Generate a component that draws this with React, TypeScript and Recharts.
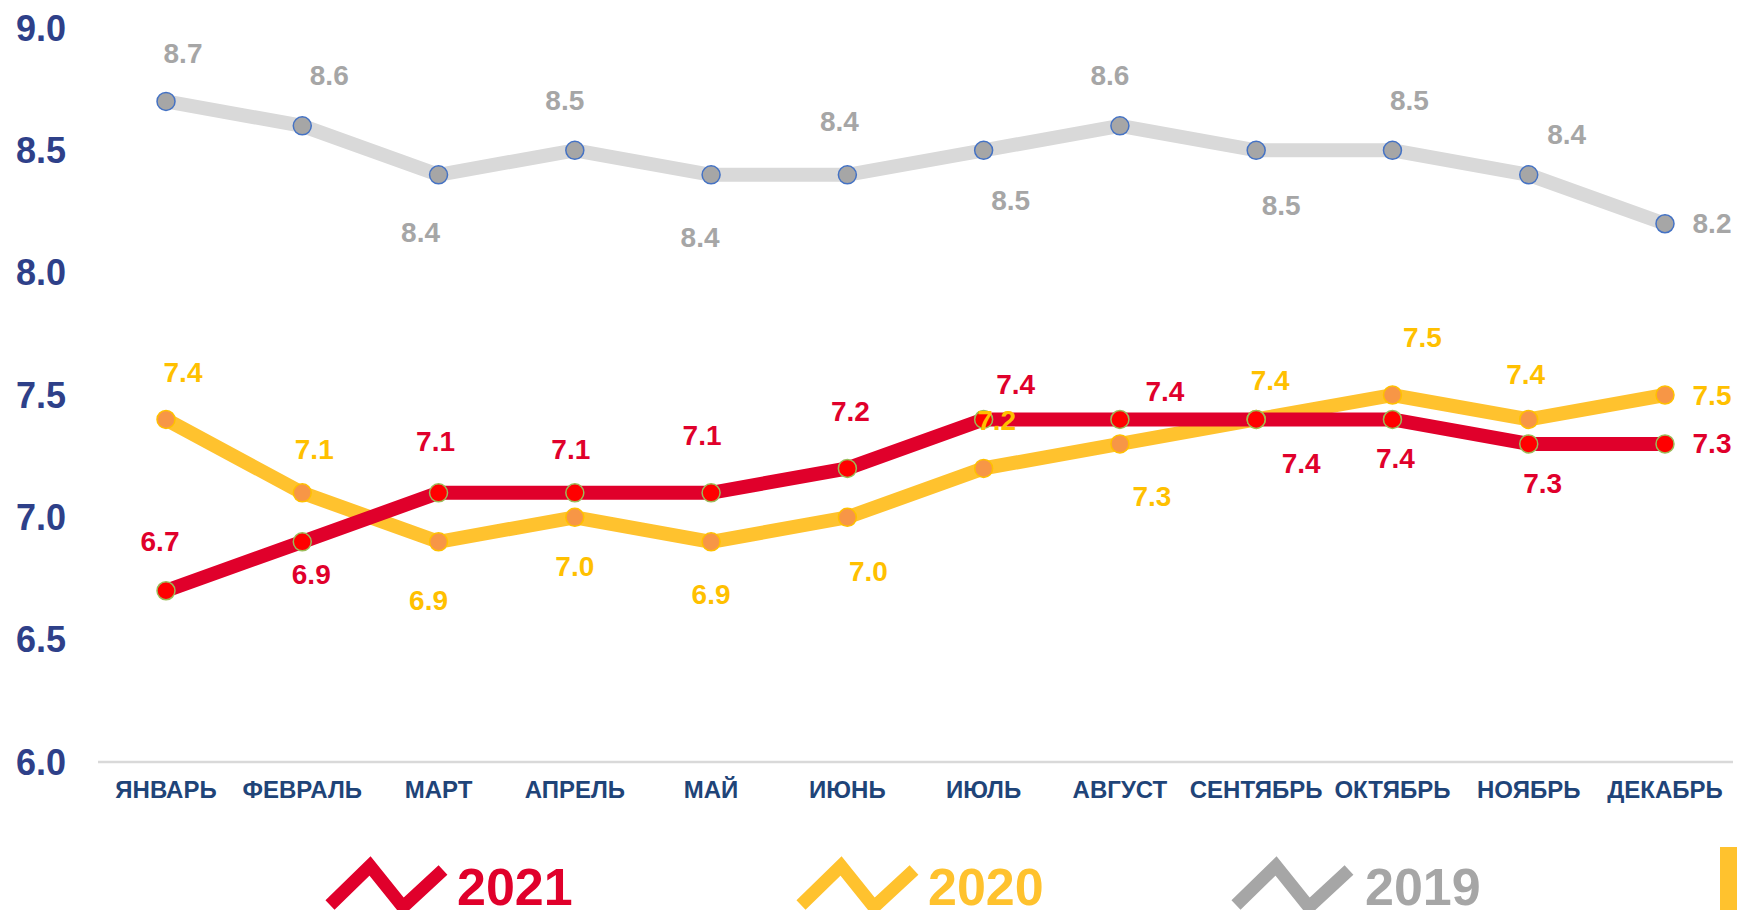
import React from 'react';
import { LineChart, Line, XAxis, YAxis, LabelList } from 'recharts';

const months = ['ЯНВАРЬ', 'ФЕВРАЛЬ', 'МАРТ', 'АПРЕЛЬ', 'МАЙ', 'ИЮНЬ', 'ИЮЛЬ', 'АВГУСТ', 'СЕНТЯБРЬ', 'ОКТЯБРЬ', 'НОЯБРЬ', 'ДЕКАБРЬ'];
const values2019 = [8.7, 8.6, 8.4, 8.5, 8.4, 8.4, 8.5, 8.6, 8.5, 8.5, 8.4, 8.2];
const values2020 = [7.4, 7.1, 6.9, 7.0, 6.9, 7.0, 7.2, 7.3, 7.4, 7.5, 7.4, 7.5];
const values2021 = [6.7, 6.9, 7.1, 7.1, 7.1, 7.2, 7.4, 7.4, 7.4, 7.4, 7.3, 7.3];
const yTicks = [6, 6.5, 7, 7.5, 8, 8.5, 9];
const seriesNames = ['2021', '2020', '2019'];

// label offsets (dx, dy) relative to each point, as placed in the original
const off2019 = [[17, -48], [27, -50], [-18, 58], [-10, -50], [-11, 63], [-8, -53], [27, 50], [-10, -50], [25, 55], [17, -50], [38, -40], [47, 0]];
const off2020 = [[17, -47], [12, -43], [-10, 59], [0, 49], [0, 53], [21, 54], [13, -48], [32, 53], [14, -39], [30, -58], [-3, -45], [47, 0]];
const off2021 = [[-6, -49], [9, 33], [-3, -51], [-4, -43], [-9, -57], [3, -57], [32, -35], [45, -28], [45, 44], [3, 39], [14, 40], [47, 0]];

const RED = '#E0002B';
const YELLOW = '#FFC22E';
const YELLOW_TXT = '#FFC000';
const GRAY_LINE = '#D9D9D9';
const GRAY = '#A6A6A6';
const FONT = '"Liberation Sans", Arial, sans-serif';

const data = months.map((m, i) => ({
  month: m,
  y2019: values2019[i],
  y2020: values2020[i],
  y2021: values2021[i],
}));

const makeLabel = (offsets: number[][], color: string) => (props: any) => {
  const { x, y, value, index } = props;
  const [dx, dy] = offsets[index] || [0, 0];
  return (
    <text
      x={x + dx}
      y={y + dy}
      textAnchor="middle"
      dominantBaseline="central"
      fill={color}
      fontSize={28}
      fontWeight="bold"
      fontFamily={FONT}
    >
      {Number(value).toFixed(1)}
    </text>
  );
};

const LegendIcon = ({ x, color }: { x: number; color: string }) => (
  <polyline
    points={`${x},905 ${x + 40},866 ${x + 73},907 ${x + 113},870`}
    fill="none"
    stroke={color}
    strokeWidth={13}
  />
);

const App: React.FC = () => {
  return (
    <div style={{ position: 'absolute', left: 0, top: 0, width: 1737, height: 910, background: '#fff', overflow: 'hidden' }}>
      <LineChart
        width={1737}
        height={910}
        data={data}
        margin={{ top: 28, right: 4, left: 0, bottom: 0 }}
        style={{ fontFamily: FONT }}
      >
        <XAxis
          dataKey="month"
          height={148}
          padding={{ left: 68, right: 68 }}
          axisLine={{ stroke: GRAY_LINE, strokeWidth: 2.5 }}
          tickLine={false}
          tickSize={0}
          tickMargin={19}
          interval={0}
          tick={{ fill: '#1F4478', fontSize: 24, fontWeight: 'bold', fontFamily: FONT }}
        />
        <YAxis
          width={98}
          domain={[6, 9]}
          ticks={yTicks}
          axisLine={false}
          tickLine={false}
          tickSize={0}
          tickMargin={32}
          tickFormatter={(v: number) => v.toFixed(1)}
          tick={{ fill: '#2E4089', fontSize: 36, fontWeight: 'bold', fontFamily: FONT }}
        />
        <Line
          dataKey="y2019"
          stroke={GRAY_LINE}
          strokeWidth={14}
          dot={{ r: 9, fill: GRAY, stroke: '#4472C4', strokeWidth: 1.5 }}
          activeDot={false}
          isAnimationActive={false}
        />
        <Line
          dataKey="y2020"
          stroke={YELLOW}
          strokeWidth={14}
          dot={{ r: 9, fill: '#F79646', stroke: YELLOW_TXT, strokeWidth: 1.5 }}
          activeDot={false}
          isAnimationActive={false}
        />
        <Line
          dataKey="y2021"
          stroke={RED}
          strokeWidth={14}
          dot={{ r: 9, fill: '#FF0000', stroke: '#9BBB59', strokeWidth: 1.5 }}
          activeDot={false}
          isAnimationActive={false}
        />
        {/* label layers drawn above all lines */}
        <Line dataKey="y2019" stroke="none" dot={false} activeDot={false} isAnimationActive={false} legendType="none">
          <LabelList content={makeLabel(off2019, GRAY)} />
        </Line>
        <Line dataKey="y2020" stroke="none" dot={false} activeDot={false} isAnimationActive={false} legendType="none">
          <LabelList content={makeLabel(off2020, YELLOW_TXT)} />
        </Line>
        <Line dataKey="y2021" stroke="none" dot={false} activeDot={false} isAnimationActive={false} legendType="none">
          <LabelList content={makeLabel(off2021, RED)} />
        </Line>
      </LineChart>
      <svg width={1737} height={910} style={{ position: 'absolute', left: 0, top: 0, pointerEvents: 'none' }}>
        <LegendIcon x={330} color={RED} />
        <text x={457} y={905} fill={RED} fontSize={52} fontWeight="bold" fontFamily={FONT}>{seriesNames[0]}</text>
        <LegendIcon x={801} color={YELLOW} />
        <text x={928} y={905} fill={YELLOW} fontSize={52} fontWeight="bold" fontFamily={FONT}>{seriesNames[1]}</text>
        <LegendIcon x={1236} color={GRAY} />
        <text x={1365} y={905} fill={GRAY} fontSize={52} fontWeight="bold" fontFamily={FONT}>{seriesNames[2]}</text>
        <rect x={1720} y={847} width={17} height={63} fill={YELLOW} />
      </svg>
    </div>
  );
};

export default App;
